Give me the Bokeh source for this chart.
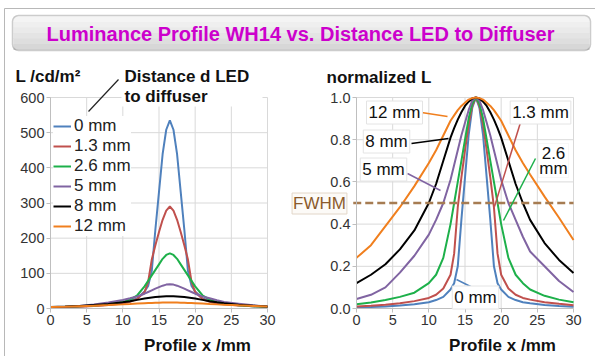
from bokeh.plotting import figure
from bokeh.models import (Label, Legend, LegendItem, Arrow, BoxAnnotation,
                          Range1d, FixedTicker, LinearAxis, PrintfTickFormatter)
from bokeh.embed import file_html
from bokeh.resources import INLINE

FONT = "Liberation Sans"

# ---------------- data ----------------
x_mm = [0, 2, 4, 6, 8, 10, 11, 12, 13, 13.5, 14, 14.5, 15, 15.5, 16, 16.5,
        17, 17.5, 18, 18.5, 19, 19.5, 20, 21, 22, 23, 24, 26, 28, 30]

series_labels = ["0 mm", "1.3 mm", "2.6 mm", "5 mm", "8 mm", "12 mm"]
peak_cd = [535, 290, 157, 69, 35, 17]

norm_0 = [0.005, 0.007, 0.01, 0.014, 0.02, 0.03, 0.04, 0.055, 0.09, 0.12, 0.2, 0.42, 0.62, 0.82, 0.95, 1.0,
          0.95, 0.82, 0.62, 0.42, 0.2, 0.12, 0.09, 0.055, 0.04, 0.03, 0.025, 0.017, 0.012, 0.008]
norm_13 = [0.01, 0.013, 0.018, 0.025, 0.035, 0.05, 0.065, 0.095, 0.16, 0.26, 0.48, 0.62, 0.75, 0.87, 0.96, 1.0,
           0.96, 0.87, 0.75, 0.62, 0.48, 0.26, 0.16, 0.095, 0.065, 0.05, 0.042, 0.03, 0.022, 0.015]
norm_26 = [0.02, 0.028, 0.04, 0.055, 0.075, 0.12, 0.16, 0.24, 0.40, 0.50, 0.60, 0.70, 0.80, 0.90, 0.97, 1.0,
           0.97, 0.90, 0.80, 0.70, 0.60, 0.50, 0.40, 0.24, 0.16, 0.12, 0.09, 0.06, 0.042, 0.03]
norm_5 = [0.045, 0.065, 0.1, 0.17, 0.25, 0.35, 0.42, 0.5, 0.61, 0.68, 0.75, 0.82, 0.88, 0.94, 0.985, 1.0,
          0.985, 0.94, 0.88, 0.82, 0.75, 0.68, 0.61, 0.5, 0.42, 0.34, 0.27, 0.2, 0.13, 0.078]
norm_8 = [0.12, 0.16, 0.21, 0.28, 0.37, 0.50, 0.59, 0.70, 0.81, 0.855, 0.895, 0.93, 0.96, 0.98, 0.995, 1.0,
          0.995, 0.98, 0.96, 0.93, 0.895, 0.855, 0.81, 0.70, 0.59, 0.50, 0.42, 0.31, 0.23, 0.168]
norm_12 = [0.24, 0.30, 0.39, 0.48, 0.58, 0.69, 0.75, 0.82, 0.89, 0.915, 0.94, 0.96, 0.975, 0.99, 0.997, 1.0,
           0.997, 0.99, 0.975, 0.96, 0.94, 0.915, 0.89, 0.82, 0.75, 0.69, 0.635, 0.53, 0.43, 0.325]

norm_series = [norm_0, norm_13, norm_26, norm_5, norm_8, norm_12]
abs_series = [[pk * v for v in s] for pk, s in zip(peak_cd, norm_series)]

colors = ["#4F81BD", "#C0504D", "#1DB04A", "#8064A2", "#000000", "#F07F1E"]

x_ticks = [0, 5, 10, 15, 20, 25, 30]
left_y_ticks = [0, 100, 200, 300, 400, 500, 600]
right_y_ticks = [0.0, 0.2, 0.4, 0.6, 0.8, 1.0]
fwhm_level = 0.5

title_text = "Luminance Profile WH14 vs. Distance LED to Diffuser"

# ---------------- page geometry (pixels) ----------------
W, H = 595, 356
FRAME = "#B8B8B8"
GRID = "#D9D9D9"
# plot areas: (left px, right px, top px, bottom px)
LEFT_AREA = (50, 267, 97, 308)
RIGHT_AREA = (356, 573, 97, 308)
X_LIM = (0, 30)
LEFT_Y_LIM = (0, 600)
RIGHT_Y_LIM = (0, 1)


def range_for(a0, a1, p0, p1, total, flip=False):
    """Range over the whole canvas so that value a0 sits at pixel p0 and a1 at p1."""
    scale = (a1 - a0) / (p1 - p0)
    if flip:
        return Range1d(a0 + (total - p0) * scale, a0 + (0 - p0) * scale)
    return Range1d(a0 + (0 - p0) * scale, a0 + (total - p0) * scale)


p = figure(width=W, height=H, x_range=Range1d(0, W), y_range=Range1d(H, 0),
           toolbar_location=None, output_backend="svg", min_border=0,
           x_axis_location=None, y_axis_location=None)
p.grid.visible = False
p.outline_line_color = None
p.background_fill_color = "white"
p.border_fill_color = "white"

p.extra_x_ranges = {
    "lx": range_for(X_LIM[0], X_LIM[1], LEFT_AREA[0], LEFT_AREA[1], W),
    "rx": range_for(X_LIM[0], X_LIM[1], RIGHT_AREA[0], RIGHT_AREA[1], W),
}
p.extra_y_ranges = {
    "ly": range_for(LEFT_Y_LIM[0], LEFT_Y_LIM[1], LEFT_AREA[3], LEFT_AREA[2], H, flip=True),
    "ry": range_for(RIGHT_Y_LIM[0], RIGHT_Y_LIM[1], RIGHT_AREA[3], RIGHT_AREA[2], H, flip=True),
}

# ---------------- slide frame and title box ----------------
p.line([4, 4], [8, H], line_color=FRAME, line_width=1)
p.line([4, W], [8, 8], line_color=FRAME, line_width=1)
shades = ["#F4F4F4", "#EFEFEF", "#EAEAEA", "#E4E4E4", "#DEDEDE", "#D7D7D7"]
top, bot = 16.0, 49.0
hh = (bot - top) / len(shades)
for i, c in enumerate(shades):
    p.add_layout(BoxAnnotation(left=13, right=589, top=top + i * hh, bottom=top + (i + 1) * hh + 0.6,
                               fill_color=c, fill_alpha=1.0, line_color=None))
p.add_layout(BoxAnnotation(left=12, right=590, top=15, bottom=50, fill_alpha=0.0,
                           line_color="#555555", line_width=1.5, border_radius=6))
p.add_layout(Label(x=300, y=33, text=title_text, text_align="center", text_baseline="middle",
                   text_font=FONT, text_font_style="bold", text_font_size="20px",
                   text_color="#CC00CC"))


def make_chart(xr, yr, y_ticks, y_lim, y_fmt=None):
    p.segment(x0=x_ticks, y0=[y_lim[0]] * len(x_ticks), x1=x_ticks, y1=[y_lim[1]] * len(x_ticks),
              x_range_name=xr, y_range_name=yr, line_color=GRID, line_width=1)
    p.segment(x0=[X_LIM[0]] * len(y_ticks), y0=y_ticks, x1=[X_LIM[1]] * len(y_ticks), y1=y_ticks,
              x_range_name=xr, y_range_name=yr, line_color=GRID, line_width=1)
    xa = LinearAxis(x_range_name=xr, y_range_name=yr, fixed_location=y_lim[0], bounds=X_LIM,
                    ticker=FixedTicker(ticks=x_ticks))
    ya = LinearAxis(x_range_name=xr, y_range_name=yr, fixed_location=X_LIM[0], bounds=y_lim,
                    ticker=FixedTicker(ticks=y_ticks))
    if y_fmt is not None:
        ya.formatter = y_fmt
    for a in (xa, ya):
        a.axis_line_color = "#BFBFBF"
        a.major_tick_line_color = "#BFBFBF"
        a.major_tick_out = 4
        a.major_tick_in = 0
        a.minor_tick_line_color = None
        a.major_label_text_font = FONT
        a.major_label_text_font_size = "14.5px"
        a.major_label_text_color = "#333333"
        a.major_label_standoff = 2
    p.add_layout(xa, "below")
    p.add_layout(ya, "left")


# ---------------- left chart: absolute luminance ----------------
make_chart("lx", "ly", left_y_ticks, LEFT_Y_LIM)
items = []
for lab, ys, c in zip(series_labels, abs_series, colors):
    r = p.line(x_mm, ys, x_range_name="lx", y_range_name="ly", line_color=c, line_width=2)
    items.append(LegendItem(label=lab, renderers=[r]))

leg = Legend(items=items, location=(53, H - 236), background_fill_color="white",
             background_fill_alpha=1.0, border_line_color=None, label_text_font=FONT,
             label_text_font_size="17px", label_text_color="#222222", glyph_width=18,
             glyph_height=18, label_height=18, label_standoff=3, spacing=0, padding=8, margin=0)
p.add_layout(leg, "center")

p.add_layout(Label(x=15, y=76, text="L  /cd/m²", text_font=FONT, text_font_style="bold",
                   text_font_size="17px", text_baseline="middle", text_color="#111111"))
p.add_layout(BoxAnnotation(left=121, right=262, top=63, bottom=106, fill_color="white",
                           fill_alpha=1.0, line_color=None))
for txt, py in (("Distance d LED", 76), ("to diffuser", 96)):
    p.add_layout(Label(x=124, y=py, text=txt, text_font=FONT, text_font_style="bold",
                       text_font_size="17px", text_baseline="middle", text_color="#111111"))
p.add_layout(Arrow(end=None, x_start=118, y_start=79, x_end=88, y_end=111,
                   line_color="#222222", line_width=1.2))
p.add_layout(Label(x=197, y=345, text="Profile x /mm", text_align="center", text_baseline="middle",
                   text_font=FONT, text_font_style="bold", text_font_size="17px",
                   text_color="#111111"))

# ---------------- right chart: normalized luminance ----------------
make_chart("rx", "ry", right_y_ticks, RIGHT_Y_LIM, PrintfTickFormatter(format="%.1f"))
for ys, c in zip(norm_series, colors):
    p.line(x_mm, ys, x_range_name="rx", y_range_name="ry", line_color=c, line_width=2)

p.line([-0.45, X_LIM[1]], [fwhm_level, fwhm_level], x_range_name="rx", y_range_name="ry",
       line_color="#A67C52", line_width=2.5, line_dash="8 4")
p.add_layout(Label(x=319, y=203, text="FWHM", text_align="center", text_baseline="middle",
                   text_font=FONT, text_font_size="17px", text_color="#8B5A2B",
                   background_fill_color="#FCFAF7", background_fill_alpha=1.0,
                   border_line_color="#E2D6C8", padding=1))

p.add_layout(Label(x=326, y=77, text="normalized L", text_font=FONT, text_font_style="bold",
                   text_font_size="17px", text_baseline="middle", text_color="#111111"))
p.add_layout(Label(x=502, y=345, text="Profile x /mm", text_align="center", text_baseline="middle",
                   text_font=FONT, text_font_style="bold", text_font_size="17px",
                   text_color="#111111"))

# curve annotations: (text, label centre px, line start px, line end px, colour index)
annotations = [
    ("12 mm", (394, 112), (421, 112), (447, 116), 5),
    ("8 mm", (386, 141), (411, 143), (448, 138), 4),
    ("5 mm", (383, 169), (407, 173), (440, 190), 3),
    ("1.3 mm", (540, 112), (520, 122), (494, 206), 1),
    ("0 mm", (475, 297), (456, 279), (472, 287), 0),
    ("2.6", (551, 152), (535, 158), (503, 220), 2),
]
for txt, (cx, cy), (sx0, sy0), (sx1, sy1), ci in annotations:
    p.add_layout(Arrow(end=None, x_start=sx0, y_start=sy0, x_end=sx1, y_end=sy1,
                       line_color=colors[ci], line_width=1.5))
for txt, (cx, cy), _s, _e, ci in annotations[:5]:
    p.add_layout(Label(x=cx, y=cy, text=txt, text_align="center", text_baseline="middle",
                       text_font=FONT, text_font_size="17px", text_color="#111111",
                       background_fill_color="white", background_fill_alpha=1.0,
                       border_line_color="#E4E4E4", padding=2))
p.add_layout(BoxAnnotation(left=538, right=568, top=143, bottom=177, fill_color="white",
                           fill_alpha=1.0, line_color="#E4E4E4"))
for txt, py in (("2.6", 152), ("mm", 168)):
    p.add_layout(Label(x=553, y=py, text=txt, text_align="center", text_baseline="middle",
                       text_font=FONT, text_font_size="17px", text_color="#111111"))

open("out.html", "w").write(file_html(p, INLINE))
